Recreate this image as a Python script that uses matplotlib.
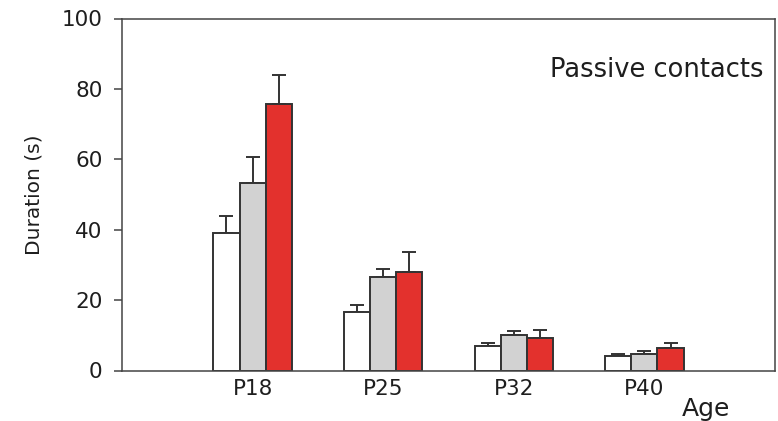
import matplotlib
matplotlib.use("Agg")
import matplotlib.pyplot as plt
import numpy as np

plt.rcParams['font.family'] = ['DejaVu Sans']

ages = ["P18", "P25", "P32", "P40"]
white_vals = [39.0, 16.5, 6.9, 4.2]
white_err = [5.0, 2.1, 0.8, 0.6]
gray_vals = [53.4, 26.5, 10.0, 4.6]
gray_err = [7.2, 2.3, 1.2, 0.9]
red_vals = [75.7, 27.9, 9.1, 6.5]
red_err = [8.2, 5.9, 2.3, 1.2]
yticks = [0, 20, 40, 60, 80, 100]

fig = plt.figure(figsize=(7.78, 4.21), dpi=100)
ax = fig.add_axes([122/778, 50.5/421, 653/778, 352/421])

x = np.arange(1, len(ages) + 1)
w = 0.2
edge = "#333333"
series = [(white_vals, white_err, "#FFFFFF", -w),
          (gray_vals, gray_err, "#D2D2D2", 0.0),
          (red_vals, red_err, "#E3312D", w)]
for vals, errs, col, off in series:
    ax.bar(x + off, vals, width=w, color=col, edgecolor=edge, linewidth=1.4, zorder=2)
    ax.errorbar(x + off, vals, yerr=[np.zeros(len(errs)), errs], fmt="none",
                ecolor=edge, elinewidth=1.4, capsize=5.2, capthick=1.4, zorder=1)

ax.set_xlim(0, 5)
ax.set_ylim(0, 100)
ax.set_xticks(x)
ax.set_xticklabels(ages, fontsize=15.5, color="#1e1e1e")
ax.set_yticks(yticks)
ax.set_yticklabels([str(v) for v in yticks], fontsize=15.5, color="#1e1e1e")
ax.tick_params(axis="x", length=0, pad=6)
ax.tick_params(axis="y", length=6, width=1.1, color="#444444", pad=8)
for s in ax.spines.values():
    s.set_color("#444444")
    s.set_linewidth(1.1)

ax.set_ylabel("Duration (s)", fontsize=14.5, color="#1e1e1e", labelpad=13)
ax.text(0.982, 0.855, "Passive contacts", transform=ax.transAxes, ha="right",
        va="center", fontsize=18.5, color="#1e1e1e")
fig.text(0.907, 0.012, "Age", ha="center", va="baseline", fontsize=18, color="#1e1e1e")

fig.savefig("out.png", dpi=100)
